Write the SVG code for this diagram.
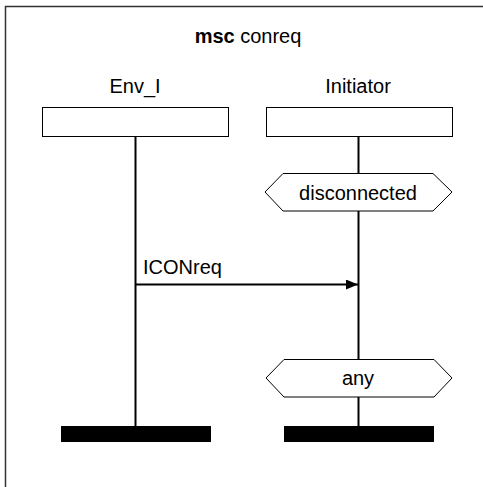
<svg xmlns="http://www.w3.org/2000/svg" width="483" height="487" viewBox="0 0 483 487">
<style>
text{font-family:"Liberation Sans",Arial,sans-serif;font-size:20px;fill:#000}
.box{fill:#fff;stroke:#000;stroke-width:1}
.life{stroke:#000;stroke-width:2;fill:none}
.bar{fill:#000}
.msg{stroke:#000;stroke-width:2;fill:none}
</style>
<defs>
<marker id="arr" markerWidth="12" markerHeight="10" refX="12" refY="5" orient="auto" markerUnits="userSpaceOnUse">
<path d="M0,0 L12,5 L0,10 Z" fill="#000"/>
</marker>
</defs>
<rect x="5.5" y="6.5" width="500" height="500" fill="#fff" stroke="#333" stroke-width="1.5"/>
<text x="248" y="43" text-anchor="middle"><tspan font-weight="bold">msc</tspan> conreq</text>
<g id="Env_I">
<text x="135" y="93" text-anchor="middle">Env_I</text>
<rect class="box" x="42.5" y="107.5" width="186" height="29"/>
<line class="life" x1="135.5" y1="137" x2="135.5" y2="426"/>
<rect class="bar" x="61" y="426" width="150" height="16"/>
</g>
<g id="Initiator">
<text x="358" y="93" text-anchor="middle">Initiator</text>
<rect class="box" x="266.5" y="107.5" width="186" height="29"/>
<line class="life" x1="358.5" y1="137" x2="358.5" y2="426"/>
<rect class="bar" x="284" y="426" width="150" height="16"/>
</g>
<g id="disconnected">
<polygon class="box" points="265,192 283,173.5 433,173.5 452,192 433,211 283,211"/>
<text x="358" y="200" text-anchor="middle">disconnected</text>
</g>
<g id="any">
<polygon class="box" points="266,378 284,359.5 434,359.5 452,378 434,397 284,397"/>
<text x="358" y="385" text-anchor="middle">any</text>
</g>
<g id="connectors">
<line class="msg" x1="135.5" y1="284.5" x2="358" y2="284.5" marker-end="url(#arr)"/>
<text x="143" y="274">ICONreq</text>
</g>
</svg>
